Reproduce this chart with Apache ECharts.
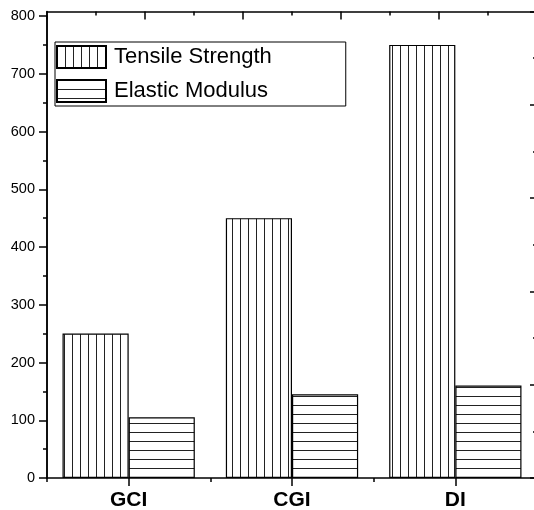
<!DOCTYPE html>
<html>
<head>
<meta charset="utf-8">
<script src="https://cdn.jsdelivr.net/npm/echarts@6/dist/echarts.min.js"></script>
<style>
  html, body { margin: 0; padding: 0; background: #fff; }
  #main { width: 534px; height: 510px; }
</style>
</head>
<body>
<div id="main"></div>
<script>
// data
const categories = ['GCI', 'CGI', 'DI'];
const tensileStrength = [250, 450, 750];
const elasticModulus = [105, 145, 160];
const seriesNames = ['Tensile Strength', 'Elastic Modulus'];

const FONT = '"Liberation Sans", Arial, sans-serif';

// hatch fill: vertical or horizontal lines
function makeHatch(vertical) {
    const c = document.createElement('canvas');
    const step = vertical ? 8 : 9;
    c.width = vertical ? step : 4;
    c.height = vertical ? 4 : step;
    const ctx = c.getContext('2d');
    ctx.fillStyle = '#fff';
    ctx.fillRect(0, 0, c.width, c.height);
    ctx.fillStyle = '#222';
    if (vertical) ctx.fillRect(0, 0, 1, c.height);
    else ctx.fillRect(0, 0, c.width, 1);
    return { image: c, repeat: 'repeat' };
}

const axisLine = { show: true, onZero: false, lineStyle: { color: '#000', width: 1.5 } };
const tickStyle = { color: '#000', width: 1.5 };

const chart = echarts.init(document.getElementById('main'), null, { renderer: 'canvas' });

const option = {
    animation: false,
    backgroundColor: '#fff',
    grid: [
        { left: 47, top: 16, width: 490, bottom: 32, outerBoundsMode: 'none', containLabel: false },
        { left: 47, top: 11.5, width: 490, bottom: 32, outerBoundsMode: 'none', containLabel: false }
    ],
    legend: {
        orient: 'vertical',
        left: 55,
        top: 42,
        data: seriesNames,
        icon: 'rect',
        itemWidth: 49,
        itemHeight: 22,
        itemGap: 10,
        padding: [3, 74, 3, 1],
        borderColor: '#000',
        borderWidth: 1,
        textStyle: { fontSize: 22, fontFamily: FONT, color: '#000', padding: [0, 0, 0, 3] }
    },
    xAxis: [
        {
            gridIndex: 0,
            type: 'category',
            position: 'bottom',
            data: categories,
            axisLine: axisLine,
            axisTick: { show: true, alignWithLabel: true, length: 8, lineStyle: tickStyle },
            axisLabel: { fontSize: 21, fontWeight: 'bold', fontFamily: FONT, color: '#000', margin: 12 },
            splitLine: { show: false }
        },
        {
            gridIndex: 1,
            type: 'category',
            position: 'bottom',
            data: categories,
            axisLine: { show: false, onZero: false },
            axisTick: { show: true, length: 4, lineStyle: tickStyle },
            axisLabel: { show: false },
            splitLine: { show: false }
        },
        {
            gridIndex: 1,
            type: 'value',
            position: 'top',
            min: 0,
            max: 5,
            interval: 1,
            axisLine: axisLine,
            axisTick: { show: true, inside: true, length: 8, lineStyle: tickStyle },
            minorTick: { show: true, splitNumber: 2, length: 4, lineStyle: tickStyle },
            axisLabel: { show: false },
            splitLine: { show: false }
        }
    ],
    yAxis: [
        {
            gridIndex: 0,
            type: 'value',
            position: 'left',
            min: 0,
            max: 800,
            interval: 100,
            axisLine: axisLine,
            axisTick: { show: true, length: 8, lineStyle: tickStyle },
            minorTick: { show: true, splitNumber: 2, length: 4, lineStyle: tickStyle },
            axisLabel: { fontSize: 14.5, fontFamily: FONT, color: '#000', margin: 12 },
            splitLine: { show: false }
        },
        {
            gridIndex: 1,
            type: 'value',
            position: 'left',
            min: 0,
            max: 1,
            axisLine: axisLine,
            axisTick: { show: false },
            axisLabel: { show: false },
            splitLine: { show: false }
        },
        {
            gridIndex: 1,
            type: 'value',
            position: 'right',
            min: 0,
            max: 5,
            interval: 1,
            axisLine: axisLine,
            axisTick: { show: true, inside: true, length: 7, lineStyle: tickStyle },
            minorTick: { show: true, splitNumber: 2, length: 4, lineStyle: tickStyle },
            axisLabel: { show: false },
            splitLine: { show: false }
        }
    ],
    series: [
        {
            name: seriesNames[0],
            type: 'bar',
            xAxisIndex: 0,
            yAxisIndex: 0,
            data: tensileStrength,
            barGap: '0%',
            barCategoryGap: '19%',
            itemStyle: { color: makeHatch(true), borderColor: '#000', borderWidth: 1.2 }
        },
        {
            name: seriesNames[1],
            type: 'bar',
            xAxisIndex: 0,
            yAxisIndex: 0,
            data: elasticModulus,
            barGap: '0%',
            barCategoryGap: '19%',
            itemStyle: { color: makeHatch(false), borderColor: '#000', borderWidth: 1.2 }
        }
    ]
};

chart.setOption(option);
</script>
</body>
</html>
